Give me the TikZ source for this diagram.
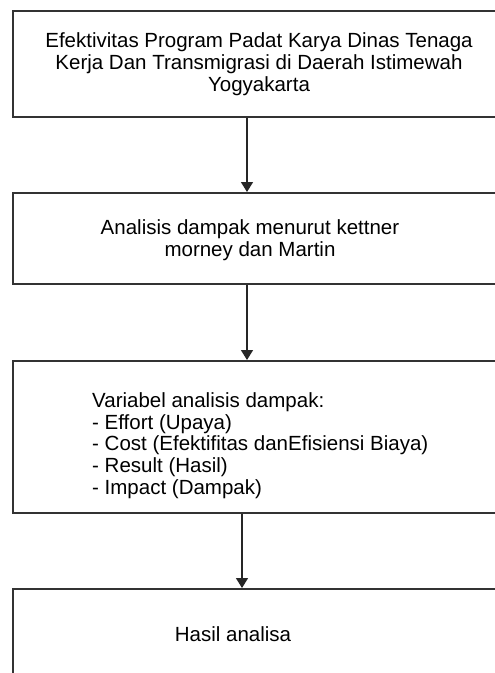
\documentclass[tikz,border=0pt]{standalone}
\usepackage{fontspec}
\setmainfont{Liberation Sans}
\usetikzlibrary{arrows.meta,positioning}

\tikzset{
  box/.style={draw=black!80, line width=1.6pt, minimum width=490pt, anchor=north west, inner sep=0pt},
  txt/.style={font=\fontsize{20.5}{21.8}\selectfont, align=center, inner sep=0pt},
  arr/.style={draw=black!85, line width=1.4pt, -{Triangle[width=12pt,length=10pt]}},
}

\begin{document}
\begin{tikzpicture}[x=1pt,y=-1pt]
  \useasboundingbox (0,0) rectangle (495,673);
  \clip (0,0) rectangle (495,673);

  % boxes
  \node[box, minimum height=106pt] (b1) at (12,10) {};
  \node[box, minimum height=91pt]  (b2) at (12,192) {};
  \node[box, minimum height=152pt] (b3) at (12,360) {};
  \node[box, minimum height=120pt] (b4) at (12,588) {};

  % texts
  \node[txt] (t1) at (259,64) {Efektivitas Program Padat Karya Dinas Tenaga\\Kerja Dan Transmigrasi di Daerah Istimewah\\Yogyakarta};
  \node[txt] (t2) at (250,240) {Analisis dampak menurut kettner\\morney dan Martin};
  \node[txt, align=left, anchor=west] (t3) at (92,445.5) {Variabel analisis dampak:\\- Effort (Upaya)\\- Cost (Efektifitas danEfisiensi Biaya)\\- Result (Hasil)\\- Impact (Dampak)};
  \node[txt] (t4) at (233,634) {Hasil analisa};

  % arrows
  \draw[arr] ([xshift=235pt]b1.south west) -- ([xshift=235pt]b2.north west);
  \draw[arr] ([xshift=235pt]b2.south west) -- ([xshift=235pt]b3.north west);
  \draw[arr] ([xshift=230pt]b3.south west) -- ([xshift=230pt]b4.north west);
\end{tikzpicture}
\end{document}
